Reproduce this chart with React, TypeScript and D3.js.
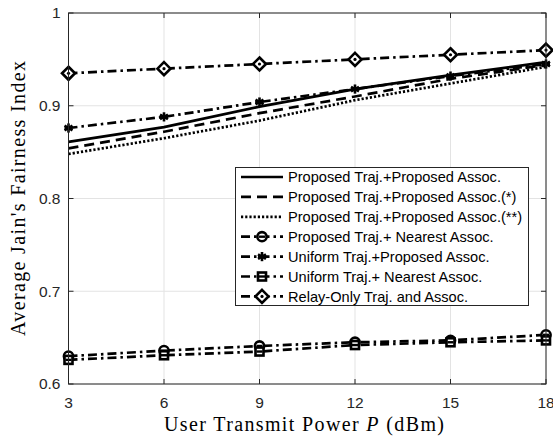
import React, { useEffect, useRef } from "react";
import * as d3 from "d3";

const powers = [3, 6, 9, 12, 15, 18];
const yTicks = [0.6, 0.7, 0.8, 0.9, 1];

const seriesNames = [
  "Proposed Traj.+Proposed Assoc.",
  "Proposed Traj.+Proposed Assoc.(*)",
  "Proposed Traj.+Proposed Assoc.(**)",
  "Proposed Traj.+ Nearest Assoc.",
  "Uniform Traj.+Proposed Assoc.",
  "Uniform Traj.+ Nearest Assoc.",
  "Relay-Only Traj. and Assoc.",
];

const propProp = [0.861, 0.877, 0.899, 0.918, 0.933, 0.947];
const propPropStar = [0.854, 0.872, 0.892, 0.910, 0.929, 0.944];
const propPropStar2 = [0.848, 0.865, 0.884, 0.906, 0.924, 0.942];
const propNearest = [0.630, 0.636, 0.641, 0.645, 0.647, 0.653];
const uniProp = [0.876, 0.888, 0.904, 0.918, 0.932, 0.945];
const uniNearest = [0.626, 0.631, 0.635, 0.642, 0.645, 0.647];
const relayOnly = [0.935, 0.940, 0.945, 0.950, 0.955, 0.960];

const seriesValues = [propProp, propPropStar, propPropStar2, propNearest, uniProp, uniNearest, relayOnly];
const dashes = ["none", "10,6", "2.2,2", "9,4,2.5,4", "9,4,2.5,4", "9,4,2.5,4", "9,4,2.5,4"];
const markers = ["none", "none", "none", "circle", "asterisk", "square", "diamond"];

function drawMarker(g: any, kind: string, x: number, y: number) {
  const c = "#000";
  if (kind === "circle") {
    g.append("circle").attr("cx", x).attr("cy", y).attr("r", 4.6)
      .attr("fill", "#fff").attr("stroke", c).attr("stroke-width", 2.6);
    g.append("line").attr("x1", x - 3).attr("x2", x + 3).attr("y1", y).attr("y2", y)
      .attr("stroke", c).attr("stroke-width", 2.4);
  } else if (kind === "square") {
    g.append("rect").attr("x", x - 4).attr("y", y - 4).attr("width", 8).attr("height", 8)
      .attr("fill", "#fff").attr("stroke", c).attr("stroke-width", 2.6);
    g.append("line").attr("x1", x - 3).attr("x2", x + 3).attr("y1", y).attr("y2", y)
      .attr("stroke", c).attr("stroke-width", 2.4);
  } else if (kind === "diamond") {
    const s = 6.5;
    g.append("path").attr("d", `M${x},${y - s}L${x + s},${y}L${x},${y + s}L${x - s},${y}Z`)
      .attr("fill", "#fff").attr("stroke", c).attr("stroke-width", 2.6);
    g.append("circle").attr("cx", x).attr("cy", y).attr("r", 1.6).attr("fill", c);
  } else if (kind === "asterisk") {
    const s = 4.6;
    [0, 60, 120].forEach((a) => {
      const r = (a * Math.PI) / 180;
      g.append("line")
        .attr("x1", x - s * Math.sin(r)).attr("y1", y - s * Math.cos(r))
        .attr("x2", x + s * Math.sin(r)).attr("y2", y + s * Math.cos(r))
        .attr("stroke", c).attr("stroke-width", 2.6);
    });
    g.append("line").attr("x1", x - 4).attr("x2", x + 4).attr("y1", y).attr("y2", y)
      .attr("stroke", c).attr("stroke-width", 2.6);
  }
}

function drawChart(container: SVGSVGElement) {
  const width = 553, height = 439;
  const left = 68.5, right = 546, top = 13, bottom = 384;
  const sans = "Liberation Sans, Arial, sans-serif";
  const serif = "Liberation Serif, serif";

  const svg = d3.select(container);
  svg.selectAll("*").remove();
  svg.append("rect").attr("width", width).attr("height", height).attr("fill", "#fff");

  const x = d3.scaleLinear().domain([3, 18]).range([left, right]);
  const y = d3.scaleLinear().domain([0.6, 1]).range([bottom, top]);

  // grid
  const grid = svg.append("g");
  powers.forEach((p) => {
    grid.append("line").attr("x1", x(p)).attr("x2", x(p)).attr("y1", top).attr("y2", bottom)
      .attr("stroke", "#e3e3e3").attr("stroke-width", 1);
  });
  yTicks.forEach((t) => {
    grid.append("line").attr("x1", left).attr("x2", right).attr("y1", y(t)).attr("y2", y(t))
      .attr("stroke", "#e3e3e3").attr("stroke-width", 1);
  });

  // series
  const line = d3.line<number>().x((_, i) => x(powers[i])).y((d) => y(d));
  seriesValues.forEach((vals, i) => {
    svg.append("path").datum(vals).attr("d", line).attr("fill", "none")
      .attr("stroke", "#000").attr("stroke-width", 2.7)
      .attr("stroke-dasharray", dashes[i]);
  });
  seriesValues.forEach((vals, i) => {
    const g = svg.append("g");
    if (markers[i] !== "none") vals.forEach((v, j) => drawMarker(g, markers[i], x(powers[j]), y(v)));
  });

  // axes box
  const axisColor = "#262626";
  svg.append("rect").attr("x", left).attr("y", top).attr("width", right - left).attr("height", bottom - top)
    .attr("fill", "none").attr("stroke", axisColor).attr("stroke-width", 1);
  const tl = 5;
  powers.forEach((p) => {
    svg.append("line").attr("x1", x(p)).attr("x2", x(p)).attr("y1", bottom).attr("y2", bottom - tl).attr("stroke", axisColor);
    svg.append("line").attr("x1", x(p)).attr("x2", x(p)).attr("y1", top).attr("y2", top + tl).attr("stroke", axisColor);
    svg.append("text").attr("x", x(p)).attr("y", bottom + 24).attr("text-anchor", "middle")
      .attr("font-family", sans).attr("font-size", 15.5)
      .attr("fill", axisColor).text(p);
  });
  yTicks.forEach((t) => {
    svg.append("line").attr("x1", left).attr("x2", left + tl).attr("y1", y(t)).attr("y2", y(t)).attr("stroke", axisColor);
    svg.append("line").attr("x1", right).attr("x2", right - tl).attr("y1", y(t)).attr("y2", y(t)).attr("stroke", axisColor);
    svg.append("text").attr("x", left - 8).attr("y", y(t)).attr("dy", "0.35em").attr("text-anchor", "end")
      .attr("font-family", sans).attr("font-size", 15.5)
      .attr("fill", axisColor).text(String(t));
  });

  // axis titles
  const xt = svg.append("text").attr("x", 304).attr("y", 431).attr("text-anchor", "middle")
    .attr("font-family", serif).attr("font-size", 20).attr("fill", "#000")
    .attr("textLength", 280).attr("lengthAdjust", "spacing");
  xt.append("tspan").text("User Transmit Power ");
  xt.append("tspan").attr("font-style", "italic").text("P");
  xt.append("tspan").text(" (dBm)");

  svg.append("text").attr("transform", `translate(25,${(top + bottom) / 2}) rotate(-90)`)
    .attr("text-anchor", "middle").attr("font-family", serif).attr("font-size", 20)
    .attr("textLength", 275).attr("lengthAdjust", "spacing")
    .attr("fill", "#000").text("Average Jain's Fairness Index");

  // legend
  const lg = svg.append("g");
  const lx = 235.5, ly = 167.5, lw = 293, lh = 138;
  lg.append("rect").attr("x", lx).attr("y", ly).attr("width", lw).attr("height", lh)
    .attr("fill", "#fff").attr("stroke", axisColor).attr("stroke-width", 1);
  seriesNames.forEach((name, i) => {
    const ry = 177 + i * 19.9;
    lg.append("line").attr("x1", 241).attr("x2", 283).attr("y1", ry).attr("y2", ry)
      .attr("stroke", "#000").attr("stroke-width", 2.7)
      .attr("stroke-dasharray", i === 1 ? "10,6" : i >= 3 ? "9,4,2.5,4" : dashes[i]);
    if (markers[i] !== "none") drawMarker(lg, markers[i], 262, ry);
    lg.append("text").attr("x", 288).attr("y", ry).attr("dy", "0.36em")
      .attr("font-family", sans).attr("font-size", 14.6)
      .attr("fill", "#000").text(name);
  });
}

function App() {
  const ref = useRef<SVGSVGElement>(null);
  useEffect(() => {
    if (ref.current) drawChart(ref.current);
  }, []);
  return (
    <svg ref={ref} width={553} height={439}
      style={{ position: "absolute", left: 0, top: 0, display: "block" }} />
  );
}

export default App;
